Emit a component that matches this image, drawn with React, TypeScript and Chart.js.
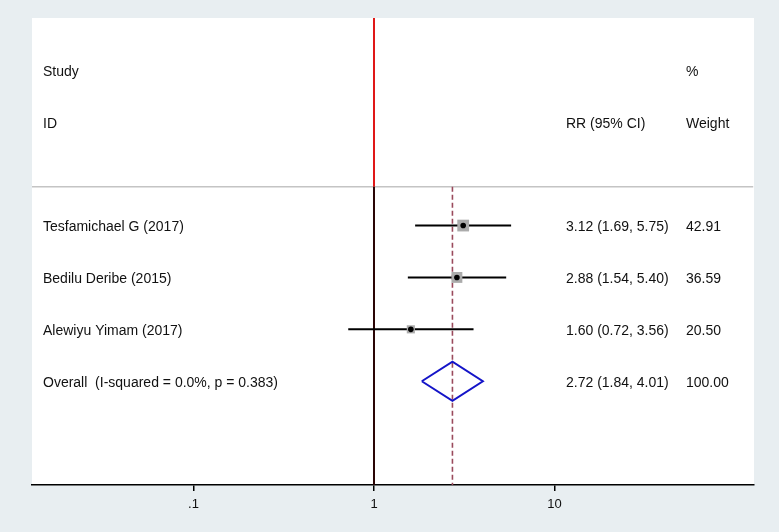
import React, { useEffect, useRef } from "react";
import { Chart, registerables } from "chart.js";

Chart.register(...registerables);

// ---- data ----
const studies = ["Tesfamichael G (2017)", "Bedilu Deribe (2015)", "Alewiyu Yimam (2017)"];
const rr = [3.12, 2.88, 1.6];
const lower = [1.69, 1.54, 0.72];
const upper = [5.75, 5.4, 3.56];
const weights = [42.91, 36.59, 20.5];
const overallLabel = "Overall  (I-squared = 0.0%, p = 0.383)";
const overallRR = 2.72;
const overallLower = 1.84;
const overallUpper = 4.01;
const overallWeight = 100.0;
const xTicks = [0.1, 1, 10];
const xTickLabels = [".1", "1", "10"];
const headerStudy = ["Study", "ID"];
const headerEffect = "RR (95% CI)";
const headerWeight = ["%", "Weight"];

const X_MIN = Math.pow(10, -1.8947);
const X_MAX = Math.pow(10, 2.1053);
const Y_MIN = -4;
const Y_MAX = 5;
const HEADER_LINE_Y = -0.75;
const OVERALL_ROW = studies.length;

const FONT = "14px 'Liberation Sans', Arial, sans-serif";
const BG = "#e8eef1";

const fmt = (v: number) => v.toFixed(2);

export default function App() {
  const ref = useRef<HTMLCanvasElement | null>(null);

  useEffect(() => {
    document.body.style.margin = "0";
    document.body.style.background = BG;
    const canvas = ref.current;
    if (!canvas) return;

    const bgPlugin = {
      id: "bgPlugin",
      beforeDraw(chart: any) {
        const { ctx, chartArea } = chart;
        ctx.save();
        ctx.fillStyle = BG;
        ctx.fillRect(0, 0, chart.width, chart.height);
        ctx.fillStyle = "#ffffff";
        ctx.fillRect(chartArea.left, chartArea.top, chartArea.right - chartArea.left, chartArea.bottom - chartArea.top);
        ctx.restore();
      },
    };

    const textPlugin = {
      id: "textPlugin",
      afterDraw(chart: any) {
        const { ctx, chartArea, scales } = chart;
        const y = scales.y;
        const labelX = chartArea.left + 11;
        const effX = chartArea.left + 534;
        const wX = chartArea.left + 654;
        const dy = 2;
        ctx.save();
        ctx.font = FONT;
        ctx.fillStyle = "#111111";
        ctx.textBaseline = "middle";
        ctx.textAlign = "left";
        ctx.fillText(headerStudy[0], labelX, y.getPixelForValue(-3) + dy);
        ctx.fillText(headerStudy[1], labelX, y.getPixelForValue(-2) + dy);
        ctx.fillText(headerEffect, effX, y.getPixelForValue(-2) + dy);
        ctx.fillText(headerWeight[0], wX, y.getPixelForValue(-3) + dy);
        ctx.fillText(headerWeight[1], wX, y.getPixelForValue(-2) + dy);
        studies.forEach((s, i) => {
          const py = y.getPixelForValue(i) + dy;
          ctx.fillText(s, labelX, py);
          ctx.fillText(`${fmt(rr[i])} (${fmt(lower[i])}, ${fmt(upper[i])})`, effX, py);
          ctx.fillText(fmt(weights[i]), wX, py);
        });
        const po = y.getPixelForValue(OVERALL_ROW) + dy;
        ctx.fillText(overallLabel, labelX, po);
        ctx.fillText(`${fmt(overallRR)} (${fmt(overallLower)}, ${fmt(overallUpper)})`, effX, po);
        ctx.fillText(fmt(overallWeight), wX, po);
        ctx.restore();
      },
    };

    const datasets: any[] = [];

    // diamond (top)
    datasets.push({
      type: "scatter",
      data: [
        { x: overallLower, y: OVERALL_ROW },
        { x: overallRR, y: OVERALL_ROW - 0.376 },
        { x: overallUpper, y: OVERALL_ROW },
        { x: overallRR, y: OVERALL_ROW + 0.376 },
        { x: overallLower, y: OVERALL_ROW },
      ],
      showLine: true,
      borderColor: "#1414c8",
      borderWidth: 2,
      pointRadius: 0,
      fill: false,
    });
    // point estimates (dots)
    datasets.push({
      type: "scatter",
      data: rr.map((v, i) => ({ x: v, y: i })),
      pointStyle: "circle",
      pointRadius: 2.8,
      backgroundColor: "#000000",
      borderWidth: 0,
    });
    // weight boxes
    datasets.push({
      type: "scatter",
      data: rr.map((v, i) => ({ x: v, y: i })),
      pointStyle: "rect",
      pointRadius: (c: any) => 1.27 * Math.sqrt(weights[c.dataIndex] ?? 0),
      backgroundColor: "#ababab",
      borderWidth: 0,
    });
    // CI lines
    studies.forEach((_, i) => {
      datasets.push({
        type: "scatter",
        data: [
          { x: lower[i], y: i },
          { x: upper[i], y: i },
        ],
        showLine: true,
        borderColor: "#000000",
        borderWidth: 2,
        pointRadius: 0,
      });
    });
    // null line below header
    datasets.push({
      type: "scatter",
      data: [
        { x: 1, y: HEADER_LINE_Y },
        { x: 1, y: Y_MAX },
      ],
      showLine: true,
      borderColor: "#2a0505",
      borderWidth: 2,
      pointRadius: 0,
    });
    // overall dashed line
    datasets.push({
      type: "scatter",
      data: [
        { x: overallRR, y: HEADER_LINE_Y },
        { x: overallRR, y: Y_MAX },
      ],
      showLine: true,
      borderColor: "#9a4a5c",
      borderWidth: 1.6,
      borderDash: [5, 3],
      pointRadius: 0,
    });
    // null line in header (red)
    datasets.push({
      type: "scatter",
      data: [
        { x: 1, y: Y_MIN },
        { x: 1, y: HEADER_LINE_Y },
      ],
      showLine: true,
      borderColor: "#e01818",
      borderWidth: 2,
      pointRadius: 0,
    });
    // header separator
    datasets.push({
      type: "scatter",
      data: [
        { x: X_MIN, y: HEADER_LINE_Y },
        { x: X_MAX * 0.99, y: HEADER_LINE_Y },
      ],
      showLine: true,
      borderColor: "#c4c4c4",
      borderWidth: 1.5,
      pointRadius: 0,
    });

    const chart = new Chart(canvas, {
      type: "scatter",
      data: { datasets },
      plugins: [bgPlugin, textPlugin],
      options: {
        responsive: false,
        devicePixelRatio: 1,
        animation: false,
        layout: { padding: { left: 32, right: 25, top: 18, bottom: 0 } },
        plugins: { legend: { display: false }, tooltip: { enabled: false } },
        scales: {
          x: {
            type: "logarithmic",
            min: X_MIN,
            max: X_MAX,
            afterBuildTicks: (s: any) => {
              s.ticks = xTicks.map((v) => ({ value: v }));
            },
            afterFit: (s: any) => {
              s.height = 47;
            },
            ticks: {
              autoSkip: false,
              maxRotation: 0,
              padding: 6,
              color: "#111111",
              font: { family: "'Liberation Sans', Arial, sans-serif", size: 13 },
              callback: (v: any) => {
                const idx = xTicks.findIndex((t) => Math.abs(t - Number(v)) < 1e-9);
                return idx >= 0 ? xTickLabels[idx] : "";
              },
            },
            grid: {
              display: true,
              drawOnChartArea: false,
              drawTicks: true,
              tickLength: 6,
              color: "#000000",
              lineWidth: 1.5,
            },
            border: { display: true, color: "#000000", width: 1.5 },
          },
          y: {
            type: "linear",
            min: Y_MIN,
            max: Y_MAX,
            reverse: true,
            display: false,
          },
        },
      },
    });

    return () => chart.destroy();
  }, []);

  return (
    <div style={{ width: 779, height: 532, background: BG }}>
      <canvas ref={ref} width={779} height={532} style={{ display: "block" }} />
    </div>
  );
}
